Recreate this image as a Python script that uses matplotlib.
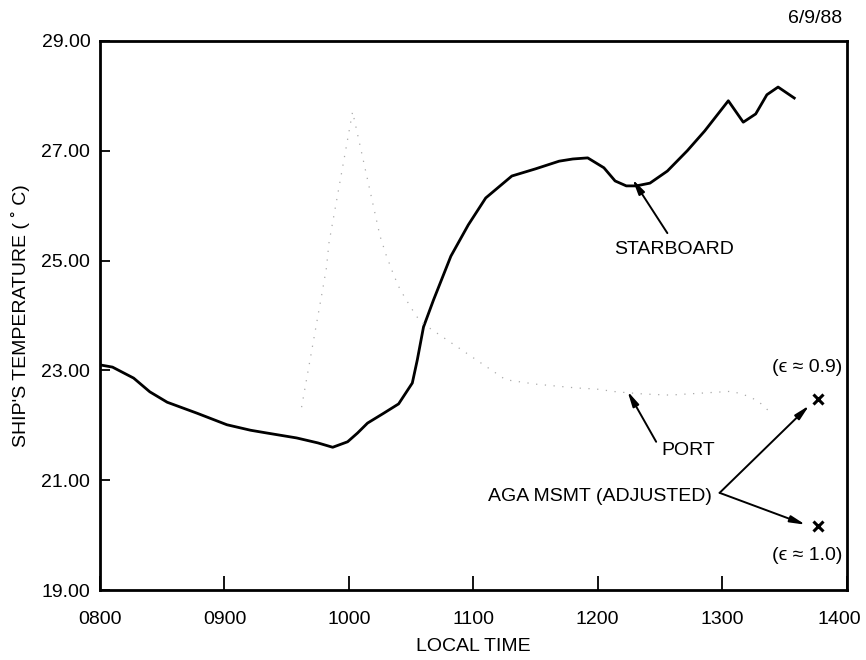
import matplotlib.pyplot as plt
from matplotlib.transforms import ScaledTranslation

plt.rcParams['font.family'] = ['Liberation Sans', 'DejaVu Sans']

# local time in decimal hours, temperatures in deg C
starboard_time = [8.00, 8.10, 8.27, 8.40, 8.54, 8.78, 9.02, 9.21, 9.34, 9.58, 9.75, 9.87,
                  9.99, 10.07, 10.15, 10.28, 10.40, 10.51, 10.55, 10.60, 10.68, 10.82,
                  10.96, 11.10, 11.31, 11.50, 11.69, 11.80, 11.92, 12.05, 12.14, 12.23,
                  12.31, 12.42, 12.56, 12.72, 12.86, 13.05, 13.17, 13.27, 13.36, 13.45, 13.58]
starboard_temp = [23.10, 23.06, 22.86, 22.61, 22.42, 22.22, 22.01, 21.91, 21.86, 21.77, 21.68, 21.60,
                  21.70, 21.86, 22.04, 22.22, 22.39, 22.77, 23.19, 23.79, 24.28, 25.08,
                  25.65, 26.14, 26.54, 26.67, 26.81, 26.85, 26.87, 26.69, 26.45, 26.36,
                  26.36, 26.41, 26.63, 27.00, 27.36, 27.91, 27.52, 27.67, 28.02, 28.16, 27.96]

port_time = [9.62, 9.79, 9.82, 9.84, 10.03, 10.25, 10.30, 10.36, 10.41, 10.50, 10.57, 10.61,
             11.26, 11.50, 11.83, 11.99, 12.15, 12.37, 12.58, 12.72, 13.08, 13.21, 13.29, 13.40]
port_temp = [22.33, 24.48, 24.87, 25.32, 27.71, 25.45, 25.10, 24.74, 24.48, 24.14, 23.90, 23.83,
             22.83, 22.75, 22.68, 22.66, 22.61, 22.57, 22.55, 22.57, 22.62, 22.53, 22.44, 22.21]

aga_time = [13.77, 13.77]
aga_temp = [22.48, 20.17]
aga_labels = ['(\u03f5 \u2248 0.9)', '(\u03f5 \u2248 1.0)']

x_ticks = [8, 9, 10, 11, 12, 13, 14]
x_labels = ['0800', '0900', '1000', '1100', '1200', '1300', '1400']
y_ticks = [19, 21, 23, 25, 27, 29]

fs = 14

fig = plt.figure(figsize=(8.66, 6.6), dpi=100)
ax = fig.add_axes([0.1155, 0.106, 0.862, 0.832])

ax.plot(starboard_time, starboard_temp, color='black', lw=2)
ax.plot(port_time, port_temp, color='#aaaaaa', lw=0.9, linestyle=(0, (1, 6)))
ax.plot(aga_time, aga_temp, 'x', color='black', ms=7, mew=2.2)

ax.set_xlim(8, 14)
ax.set_ylim(19, 29)
ax.set_xticks(x_ticks)
ax.set_xticklabels(x_labels)
ax.set_yticks(y_ticks)
ax.set_yticklabels([f'{v:.2f}' for v in y_ticks])
ax.tick_params(axis='x', direction='in', length=10, width=1.3, labelsize=fs, pad=15)
ax.tick_params(axis='y', direction='in', length=7, width=1.3, labelsize=fs, pad=7)
for side in ax.spines.values():
    side.set_linewidth(2)

# keep the last time label inside the figure
last = ax.get_xticklabels()[-1]
last.set_transform(last.get_transform() + ScaledTranslation(-5 / 72, 0, fig.dpi_scale_trans))

ax.set_xlabel('LOCAL TIME', fontsize=fs, labelpad=7)
ax.set_ylabel("SHIP'S TEMPERATURE ( \u02da C)", fontsize=fs, labelpad=8)

arrow = dict(arrowstyle='-|>,head_length=0.9,head_width=0.2', color='black', lw=1.4,
             shrinkA=0, shrinkB=0)

ax.annotate('', xy=(12.28, 26.48), xytext=(12.56, 25.50), arrowprops=arrow)
ax.text(12.61, 25.20, 'STARBOARD', ha='center', va='center', fontsize=fs)

ax.annotate('', xy=(12.24, 22.62), xytext=(12.47, 21.70), arrowprops=arrow)
ax.text(12.73, 21.54, 'PORT', ha='center', va='center', fontsize=fs)

vertex = (12.98, 20.77)
ax.annotate('', xy=(13.70, 22.36), xytext=vertex, arrowprops=arrow)
ax.annotate('', xy=(13.67, 20.19), xytext=vertex, arrowprops=arrow)
ax.text(12.92, 20.70, 'AGA MSMT (ADJUSTED)', ha='right', va='center', fontsize=fs)

ax.text(13.68, 23.06, aga_labels[0], ha='center', va='center', fontsize=fs)
ax.text(13.68, 19.62, aga_labels[1], ha='center', va='center', fontsize=fs)

fig.text(0.973, 0.972, '6/9/88', ha='right', va='center', fontsize=fs)

fig.savefig('out.png', dpi=100)
